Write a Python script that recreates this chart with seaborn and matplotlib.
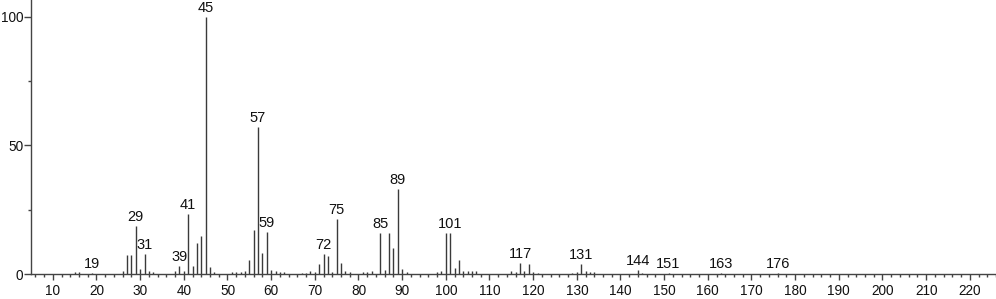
import matplotlib
matplotlib.use("Agg")
import matplotlib.pyplot as plt
import seaborn as sns
import numpy as np
from matplotlib.ticker import MultipleLocator

mz = [15, 16, 19, 26, 27, 28, 29, 30, 31, 32, 33, 38, 39, 40, 41, 42, 43, 44, 45, 46, 47,
      51, 52, 53, 54, 55, 56, 57, 58, 59, 60, 61, 62, 63, 67, 68, 69, 70, 71, 72, 73, 74, 75,
      76, 77, 78, 81, 82, 83, 85, 86, 87, 88, 89, 90, 91, 98, 99, 100, 101, 102, 103, 104,
      105, 106, 107, 115, 116, 117, 118, 119, 120, 121, 129, 130, 131, 132, 133, 134, 144,
      145, 151, 163, 176]
intensity = [0.9, 0.9, 0.5, 1.0, 7.3, 7.2, 18.7, 1.8, 7.8, 1.0, 0.8, 1.0, 3.1, 1.0, 23.2,
             3.1, 12.0, 14.8, 100.0, 2.7, 0.8, 0.8, 0.8, 0.8, 1.0, 5.4, 17.1, 57.3, 8.3,
             16.3, 1.6, 1.0, 0.8, 0.8, 0.5, 0.5, 1.0, 0.7, 3.9, 7.8, 7.0, 0.8, 21.5, 4.1,
             1.2, 0.6, 0.6, 0.6, 1.2, 16.0, 1.6, 15.8, 10.1, 32.9, 2.0, 0.6, 0.6, 1.2, 15.8,
             15.8, 2.2, 5.4, 1.0, 1.0, 1.0, 1.0, 1.0, 0.7, 4.1, 1.0, 3.9, 0.7, 0.5, 0.5, 0.6,
             3.8, 1.0, 0.8, 0.6, 1.5, 0.5, 0.5, 0.3, 0.5]
labeled_mz = [19, 29, 31, 39, 41, 45, 57, 59, 72, 75, 85, 89, 101, 117, 131, 144, 151, 163, 176]

sns.set_theme(style="ticks")
plt.rcParams['font.family'] = ['Liberation Sans', 'DejaVu Sans']

fig = plt.figure(figsize=(9.96, 2.99), dpi=100)
ax = fig.add_axes([31/996, 25/299, 1 - 31/996, 1 - 25/299])

ax.vlines(mz, 0, intensity, colors="#3a3a3a", linewidth=1.0)
lookup = dict(zip(mz, intensity))
for m in labeled_mz:
    ax.annotate(str(m), (m, lookup[m]), xytext=(0, 1.5), textcoords="offset points",
                ha="center", va="bottom", fontsize=10.5, color="#111111")

ax.set_xlim(5, 226)
ax.set_ylim(0, 106.6)
ax.xaxis.set_major_locator(MultipleLocator(10))
ax.xaxis.set_minor_locator(MultipleLocator(2))
ax.yaxis.set_major_locator(MultipleLocator(50))
ax.yaxis.set_minor_locator(MultipleLocator(25))
ax.set_xticks(np.arange(10, 221, 10))
ax.tick_params(axis="x", which="major", length=4.5, width=1, color="#444444",
               labelsize=9.8, labelcolor="#111111", pad=2.5)
ax.tick_params(axis="y", which="major", length=5, width=1, color="#444444",
               labelsize=9.8, labelcolor="#111111", pad=0.5)
ax.tick_params(axis="both", which="minor", length=2.5, width=1, color="#444444")
for s in ["top", "right"]:
    ax.spines[s].set_visible(False)
for s in ["left", "bottom"]:
    ax.spines[s].set_color("#444444")
    ax.spines[s].set_linewidth(1)
ax.set_xlabel("")
ax.set_ylabel("")
fig.savefig("out.png", dpi=100)
